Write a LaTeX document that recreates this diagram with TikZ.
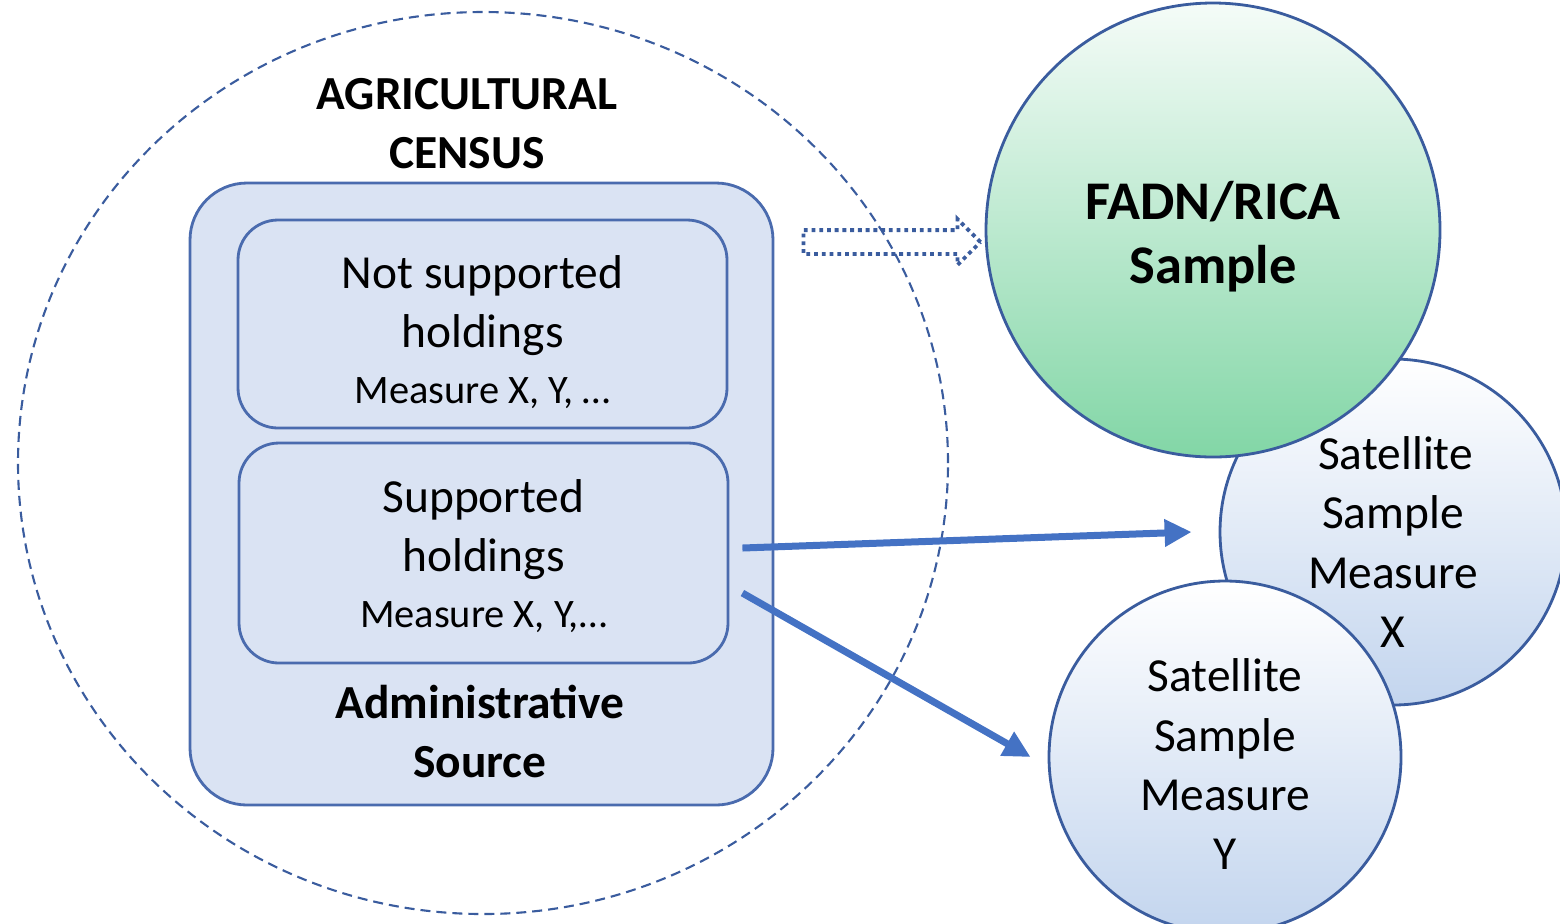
\documentclass[tikz,border=0pt]{standalone}
\usepackage{fontspec}
\setmainfont{Carlito}
\usetikzlibrary{shapes.arrows,arrows.meta}

\definecolor{censusblue}{HTML}{3A5C9E}
\definecolor{boxline}{HTML}{4A6BAE}
\definecolor{boxfill}{HTML}{DAE3F3}
\definecolor{flowblue}{HTML}{4472C4}
\definecolor{satfill}{HTML}{C3D5EE}
\definecolor{fadnfill}{HTML}{82D6A6}

% invisible strut that pushes the first line of a label down
\newcommand{\topgap}[1]{\rule{0pt}{#1}}

\tikzset{%
    bigfont/.style = {font=\fontsize{13.5}{16.8}\selectfont},
    holdingbox/.style = {%
        draw=boxline, fill=boxfill, line width=0.8pt,
        rounded corners=4mm, align=center, inner sep=0pt,
        minimum width=4.89cm, bigfont,
    },
    samplecircle/.style = {%
        circle, draw=censusblue, line width=0.8pt,
        align=center, inner sep=0pt, bigfont,
        top color=white, bottom color=satfill,
    },
    flow/.style = {%
        draw=flowblue, line width=0.7mm,
        -{Triangle[length=2.7mm, width=2.6mm]},
    },
}

\begin{document}
\begin{tikzpicture}

        \useasboundingbox (0, 0) rectangle (15.6, -9.23);

        % The census is only a dashed outline round the administrative source.
        \draw[censusblue, line width=0.6pt, dash pattern=on 1mm off 0.6mm]
            (4.83, -4.63) ellipse [x radius=4.65, y radius=4.51];
        \node[font=\fontsize{13.5}{16.8}\selectfont\bfseries, align=center]
            (title) at (4.67, -1.24) {AGRICULTURAL\\CENSUS};

        \node[%
            draw=boxline, fill=boxfill, line width=0.8pt,
            rounded corners=5.7mm, minimum width=5.83cm, minimum height=6.22cm,
        ] (source) at (4.815, -4.94) {};
        \node[holdingbox, minimum height=2.08cm] (unsupp) at (4.825, -3.24)
            {\topgap{4.9mm}Not supported\\holdings\\[-0.9pt]%
            {\fontsize{11.5}{14}\selectfont Measure X, Y, …}};
        \node[holdingbox, minimum height=2.2cm] (supp) at (4.835, -5.53)
            {\topgap{3.9mm}Supported\\holdings\\[-0.9pt]%
            {\fontsize{11.5}{14}\selectfont Measure X, Y,…}};
        \node[font=\fontsize{13.5}{16.8}\selectfont\bfseries, align=center]
            (admin) at (4.80, -7.31) {Administrative\\Source};

        % Hollow dotted arrow towards the FADN sample.
        \node[%
            single arrow, draw=censusblue, line width=1.1pt,
            dash pattern=on 1.1pt off 1.1pt,
            minimum height=1.77cm, inner xsep=0pt, inner ysep=1mm,
            single arrow head extend=1.1mm,
        ] (hint) at (8.86, -2.42) {};

        \node[samplecircle, minimum size=3.46cm] (satx) at (13.93, -5.32)
            {\topgap{5.3mm}\hspace{0.5mm}Satellite\\Sample\\Measure\\X};
        \node[%
            samplecircle, minimum size=4.54cm,
            top color=fadnfill!8, bottom color=fadnfill,
            font=\fontsize{15.5}{18.2}\selectfont\bfseries,
        ] (fadn) at (12.13, -2.30) {\topgap{5.2mm}FADN/RICA\\Sample};
        \node[samplecircle, minimum size=3.52cm] (saty) at (12.25, -7.57)
            {\topgap{4.7mm}Satellite\\Sample\\Measure\\Y};

        \draw[flow] ([xshift=1.3mm, yshift=0.5mm]supp.east) -- ([xshift=-2.7mm]satx.west);
        \draw[flow] ([xshift=1.3mm, yshift=-4mm]supp.east) -- ([xshift=-1.7mm]saty.west);

    \end{tikzpicture}
\end{document}
